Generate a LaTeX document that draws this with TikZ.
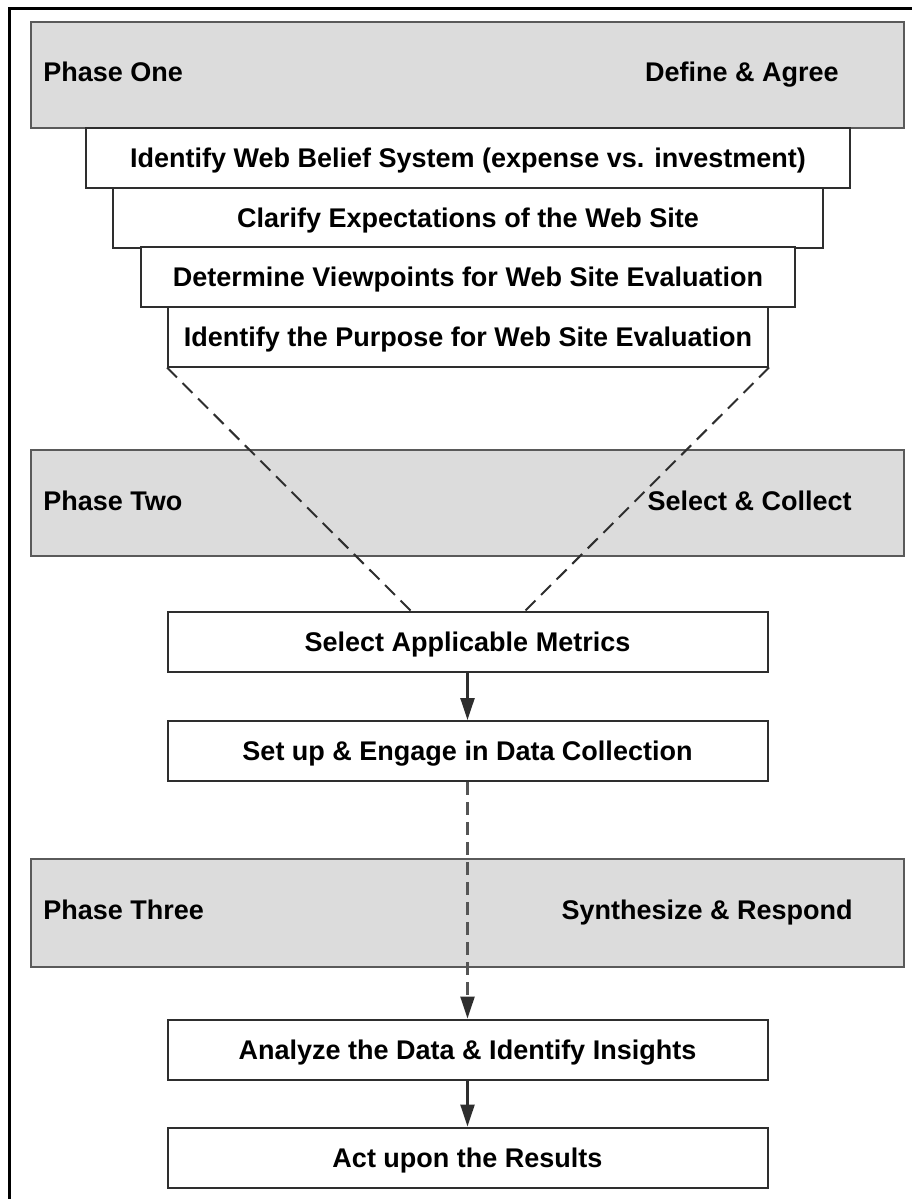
\documentclass[tikz,border=0pt]{standalone}
\usepackage{fontspec}
\setmainfont{Liberation Sans}
\usetikzlibrary{arrows.meta}

\definecolor{bandgray}{HTML}{DCDCDC}
\definecolor{bandline}{HTML}{5A5A5A}
\definecolor{boxline}{HTML}{2E2E2E}
\definecolor{dashline}{HTML}{555555}

\tikzset{
  band/.style={draw=bandline, line width=1.2pt, fill=bandgray, minimum width=436.5pt, minimum height=53pt, inner sep=0pt},
  stage/.style={draw=boxline, line width=1pt, fill=white, minimum width=300pt, minimum height=30pt, inner sep=0pt,
    text height=9.7pt, text depth=0pt, font=\bfseries\fontsize{13.5}{16}\selectfont},
  phaselabel/.style={inner sep=0pt, font=\bfseries\fontsize{13.5}{16}\selectfont},
  flow/.style={draw=boxline, line width=1.2pt, -{Triangle[length=11pt,width=7pt,color=boxline]}},
  funnel/.style={draw=boxline, line width=1pt, dash pattern=on 7pt off 4pt},
}

\begin{document}
\begin{tikzpicture}[x=0.5pt, y=-0.5pt]
\useasboundingbox (0,0) rectangle (912,1199);
% frame
\draw[line width=1.5pt] (9,1199) -- (9,8) -- (912,8);

% phase bands
\node[band] (phaseone) at (467.5,75) {};
\node[band] (phasetwo) at (467.5,503) {};
\node[band, minimum height=54pt] (phasethree) at (467.5,913) {};
\node[phaselabel, anchor=base west] (onename) at (43,81) {Phase One};
\node[phaselabel, anchor=base east] (onetask) at (839,81) {Define \& Agree};
\node[phaselabel, anchor=base west] (twoname) at (43,510) {Phase Two};
\node[phaselabel, anchor=base east] (twotask) at (852,510) {Select \& Collect};
\node[phaselabel, anchor=base west] (threename) at (43,919) {Phase Three};
\node[phaselabel, anchor=base east] (threetask) at (853,919) {Synthesize \& Respond};

% phase one steps
\node[stage, minimum width=382pt] (belief) at (468,158) {Identify Web Belief System (expense vs. investment)};
\node[stage, minimum width=355pt] (expect) at (468,217.5) {Clarify Expectations of the Web Site};
\node[stage, minimum width=327pt] (views) at (468,277) {Determine Viewpoints for Web Site Evaluation};
\node[stage] (purpose) at (468,336.5) {Identify the Purpose for Web Site Evaluation};

% phase two steps
\node[stage] (metrics) at (467.5,641.5) {Select Applicable Metrics};
\node[stage] (collect) at (467.5,751) {Set up \& Engage in Data Collection};

% phase three steps
\node[stage] (analyze) at (467.5,1049.5) {Analyze the Data \& Identify Insights};
\node[stage] (act) at (467.5,1157.5) {Act upon the Results};

% funnel
\coordinate (funnelleft) at (412,612);
\coordinate (funnelright) at (524,612);
\draw[funnel] (purpose.south west) -- (funnelleft);
\draw[funnel] (purpose.south east) -- (funnelright);

% arrows
\draw[flow] (metrics) -- (collect);
\draw[flow, draw=dashline, dash pattern=on 6.5pt off 3.5pt] (collect) -- (analyze);
\draw[flow] (analyze) -- (act);
\end{tikzpicture}
\end{document}
